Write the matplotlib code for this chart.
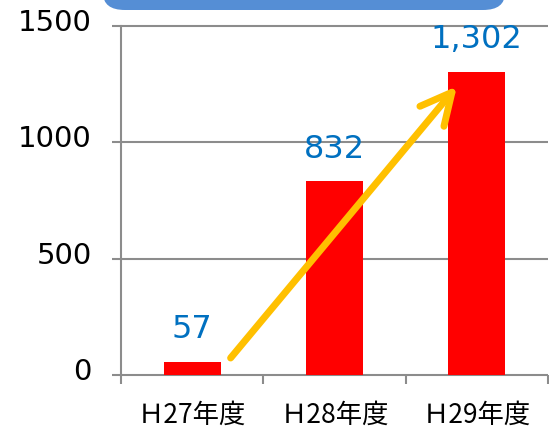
import matplotlib
matplotlib.use("Agg")
import matplotlib.pyplot as plt
from matplotlib.patches import FancyBboxPatch, FancyArrowPatch
import matplotlib.transforms as mtransforms

categories = ["Ｈ27年度", "Ｈ28年度", "Ｈ29年度"]
values = [57, 832, 1302]
value_labels = ["57", "832", "1,302"]
yticks = [0, 500, 1000, 1500]
arrow_start = (0.27, 73)
arrow_end = (1.86, 1239)

plt.rcParams['font.family'] = ['DejaVu Sans']

fig = plt.figure(figsize=(5.49, 4.29), dpi=100)
ax = fig.add_axes([121/549, 1-375/429, 427/549, 349.5/429])

x = list(range(len(categories)))
grid_c = "#8C8C8C"

# gridlines (extend slightly left of spine)
ax.hlines(yticks, -0.021, 1.0, transform=ax.get_yaxis_transform(),
          colors=grid_c, linewidth=1.5, clip_on=False, zorder=1)

ax.bar(x, values, width=0.4, color="#FF0000", zorder=2)

for xi, v, lab in zip(x, values, value_labels):
    ax.annotate(lab, (xi, v), xytext=(0, 17), textcoords="offset points",
                ha="center", va="baseline", fontsize=23, color="#0070C0", zorder=4)

arr = FancyArrowPatch(arrow_start, arrow_end,
                      arrowstyle="->,head_length=0.9,head_width=0.45",
                      mutation_scale=25, color="#FFC000", linewidth=5,
                      capstyle="round", joinstyle="round",
                      shrinkA=0, shrinkB=0, zorder=3)
ax.add_patch(arr)

ax.set_xlim(-0.5, 2.5)
ax.set_ylim(0, 1500)

for s in ["top", "right", "bottom"]:
    ax.spines[s].set_visible(False)
ax.spines["left"].set_color(grid_c)
ax.spines["left"].set_linewidth(1.5)

ax.set_yticks(yticks)
ax.set_yticklabels([str(t) for t in yticks], fontsize=21)
ax.tick_params(axis="y", length=0, pad=21)
offset = mtransforms.ScaledTranslation(0, 4/72, fig.dpi_scale_trans)
for lbl in ax.get_yticklabels():
    lbl.set_transform(lbl.get_transform() + offset)

ax.set_xticks([-0.5, 0.5, 1.5, 2.5])
ax.set_xticklabels([])
ax.tick_params(axis="x", length=6.5, width=1.5, color=grid_c)
for xi, c in zip(x, categories):
    ax.text(xi, -0.138, c, transform=ax.get_xaxis_transform(), ha="center", va="baseline",
            fontsize=19, family=['Noto Sans CJK JP', 'DejaVu Sans'], color="#000000")

# blue rounded box at top (clipped by figure edge)
box = FancyBboxPatch((103/549, 1-10/429), 402/549, 40/429,
                     boxstyle="round,pad=0,rounding_size=0.04",
                     transform=fig.transFigure, facecolor="#558ED5",
                     edgecolor="none", zorder=5)
fig.patches.append(box)

fig.savefig("out.png", dpi=100)
